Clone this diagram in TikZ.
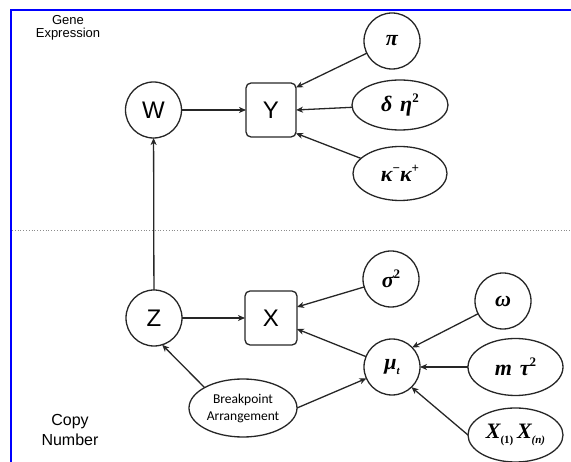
\documentclass[tikz,border=0pt]{standalone}
\usepackage{fontspec}
\setmainfont{Liberation Serif}
\setsansfont{Liberation Sans}
\newfontfamily\calib{Carlito}
\usetikzlibrary{shapes.geometric,arrows.meta}
\newcommand{\sups}[1]{\raisebox{0.42em}{\upshape\fontsize{13}{13}\selectfont #1}}
\newcommand{\subs}[1]{\raisebox{-0.25em}{\fontsize{11}{11}\selectfont #1}}
\begin{document}
\begin{tikzpicture}[x=1pt,y=-1pt,
  every node/.style={inner sep=0pt, outer sep=0pt},
  circ/.style={circle, draw=black!85, line width=1.3pt, minimum size=56pt},
  ell/.style={ellipse, draw=black!85, line width=1.3pt},
  box/.style={rectangle, rounded corners=5pt, draw=black!85, line width=1.3pt, minimum width=50pt, minimum height=54pt},
  arr/.style={draw=black!85, line width=1.3pt, -{Stealth[length=7pt,width=6pt,inset=2pt]}},
  lat/.style={font=\sffamily\fontsize{24}{24}\selectfont},
  gk/.style={font=\rmfamily\bfseries\itshape\fontsize{22}{22}\selectfont},
  side/.style={align=center, font=\sffamily\fontsize{13}{13}\selectfont}
]
\useasboundingbox (0,0) rectangle (571,462);
% frame
\draw[blue, line width=2.6pt] (11,462) -- (11,10) -- (571,10);
\draw[black!45, line width=0.8pt, dotted] (12,230) -- (571,230);
% side labels
\node[side] (ge) at (68,28) {Gene\\Expression};
\node[align=center, font=\sffamily\fontsize{16}{20}\selectfont] (cn) at (70,430) {Copy\\Number};
% gene expression part
\node[circ, lat] (W) at (153.5,110) {W};
\node[box, lat] (Y) at (271,110) {Y};
\node[circ, gk] (pi) at (392,41) {π};
\node[ell, gk, minimum width=96pt, minimum height=50pt] (de) at (400,105) {δ\hspace{0.35em}η\sups{2}};
\node[ell, gk, minimum width=94pt, minimum height=54pt] (ka) at (400,173.5) {κ\sups{−}κ\sups{+}};
% copy number part
\node[circ, lat] (Z) at (154,318) {Z};
\node[box, lat, minimum width=52pt] (X) at (271,318) {X};
\node[circ, gk] (si) at (391,279) {σ\sups{2}};
\node[circ, gk] (om) at (503,301) {ω};
\node[circ, gk] (mu) at (392,367) {μ\subs{t}};
\node[ell, gk, minimum width=95pt, minimum height=57pt] (mt) at (515.5,367) {m\hspace{0.35em}τ\sups{2}};
\node[ell, gk, minimum width=95pt, minimum height=54pt] (xn) at (515.5,435) {X\subs{\upshape(1)}\,X\subs{(n)}};
\node[ell, minimum width=108pt, minimum height=58pt, align=center, font=\calib\fontsize{13.5}{17}\selectfont] (bp) at (243,408) {Breakpoint\\Arrangement};
% connectors
\draw[arr] (W) -- (Y);
\draw[arr] (pi) -- (Y.42);
\draw[arr] (de) -- (Y.east);
\draw[arr] (ka) -- (Y.-43);
\draw[arr] (Z) -- (W);
\draw[arr] (Z) -- (X);
\draw[arr] (si) -- (X.23);
\draw[arr] (mu) -- (X.-23);
\draw[arr] (bp.152) -- (Z.-73);
\draw[arr] (bp.east) -- (mu.204);
\draw[arr] (om) -- (mu.44);
\draw[arr] (mt) -- (mu);
\draw[arr] (xn.west) -- (mu.-46);
\end{tikzpicture}
\end{document}
